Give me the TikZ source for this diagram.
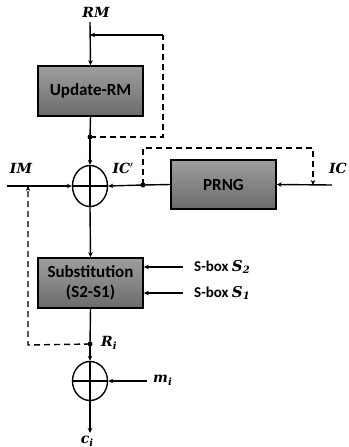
\documentclass[tikz,border=0pt]{standalone}
\usepackage{fontspec}
\setsansfont{Carlito}
\newfontfamily\lblfont{DejaVu Serif}
\newcommand\lsub[1]{\raisebox{-0.35ex}{\fontsize{10}{10}\selectfont #1}}
\usetikzlibrary{arrows.meta,shapes.geometric}
\tikzset{
  blk/.style={draw=black,line width=1.6pt,top color=black!38,bottom color=black!58,shading angle=0,inner sep=0pt,font=\sffamily\bfseries\fontsize{17}{20}\selectfont,align=center},
  xorc/.style={draw=black,line width=1.4pt,ellipse,minimum width=35pt,minimum height=41pt,inner sep=0pt},
  wire/.style={line width=1.4pt},
  arr/.style={wire,-{Stealth[length=5pt,width=4.5pt]}},
  dsh/.style={line width=1.4pt,dash pattern=on 6pt off 4pt},
  dsharr/.style={dsh,-{Stealth[length=5pt,width=4.5pt]}},
  dotc/.style={circle,fill=black,inner sep=0pt,minimum size=5pt},
  lbl/.style={font=\lblfont\bfseries\itshape\fontsize{14}{16}\selectfont,inner sep=1pt},
  slbl/.style={font=\sffamily\bfseries\fontsize{15}{17}\selectfont,inner sep=1pt,anchor=west}
}
\begin{document}
\begin{tikzpicture}[x=1pt,y=-1pt]
\useasboundingbox (0,0) rectangle (348,447);
% boxes
\node[blk,minimum width=105pt,minimum height=50pt] (upd) at (90.5,91) {Update-RM};
\node[blk,minimum width=105pt,minimum height=49pt] (prng) at (223.5,184.5) {PRNG};
\node[blk,minimum width=105pt,minimum height=50pt] (sub) at (90.5,283) {Substitution\\(S2-S1)};
\node[xorc] (x1) at (90,186) {};
\node[xorc,minimum height=39pt] (x2) at (90,381) {};
\draw[wire] (x1.north) -- (x1.south) (x1.west) -- (x1.east);
\draw[wire] (x2.north) -- (x2.south) (x2.west) -- (x2.east);
% coordinates and dots
\coordinate (rmtop) at (90,22);
\coordinate (fbin) at (90,35);
\coordinate (fbr) at (163,35);
\coordinate (fbrb) at (163,137);
\node[dotc] (d1) at (90,137) {};
\node[dotc] (d2) at (143,185) {};
\node[dotc] (d3) at (90,344) {};
\coordinate (imL) at (7,186);
\coordinate (imA) at (28,186);
\coordinate (imB) at (28,345);
\coordinate (icR) at (332,185);
\coordinate (icA) at (313,185);
\coordinate (dtop1) at (143,148);
\coordinate (dtop2) at (313,148);
\coordinate (s2s) at (183,267);
\coordinate (s1s) at (183,293);
\coordinate (mis) at (147,381);
\coordinate (ciend) at (90,433);
% labels
\node[lbl] (lrm) at (96,12) {RM};
\node[lbl] (lim) at (21,168) {IM};
\node[lbl] (licp) at (123,168) {IC$'$};
\node[lbl,anchor=east] (lic) at (348,168) {IC};
\node[lbl,anchor=west] (lri) at (100,343) {R\lsub{i}};
\node[lbl,anchor=west] (lmi) at (152,380) {m\lsub{i}};
\node[lbl] (lci) at (87,441) {c\lsub{i}};
\node[slbl] (ls2) at (193,267) {S-box {\lblfont\itshape\bfseries S\lsub{2}}};
\node[slbl] (ls1) at (193,293) {S-box {\lblfont\itshape\bfseries S\lsub{1}}};
% solid wires
\draw[arr] (rmtop) -- (upd.north);
\draw[arr] (fbr) -- (fbin);
\draw[wire] (upd.south) -- (d1.center);
\draw[arr] (d1.center) -- (x1.north);
\draw[arr] (imL) -- (x1.west);
\draw[arr] (icR) -- (prng.east);
\draw[wire] (prng.west) -- (d2.center);
\draw[arr] (d2.center) -- (x1.east);
\draw[arr] (x1.south) -- (sub.north);
\draw[arr] (s2s) -- (sub.east |- s2s);
\draw[arr] (s1s) -- (sub.east |- s1s);
\draw[wire] (sub.south) -- (d3.center);
\draw[arr] (d3.center) -- (x2.north);
\draw[arr] (mis) -- (x2.east);
\draw[arr] (x2.south) -- (ciend);
% dashed feedback
\draw[dsh] (d1.center) -- (fbrb) -- (fbr);
\draw[dsharr] (d2.center) -- (dtop1) -- (dtop2) -- (icA);
\draw[dsharr] (d3.center) -- (imB) -- (imA);
\end{tikzpicture}
\end{document}
